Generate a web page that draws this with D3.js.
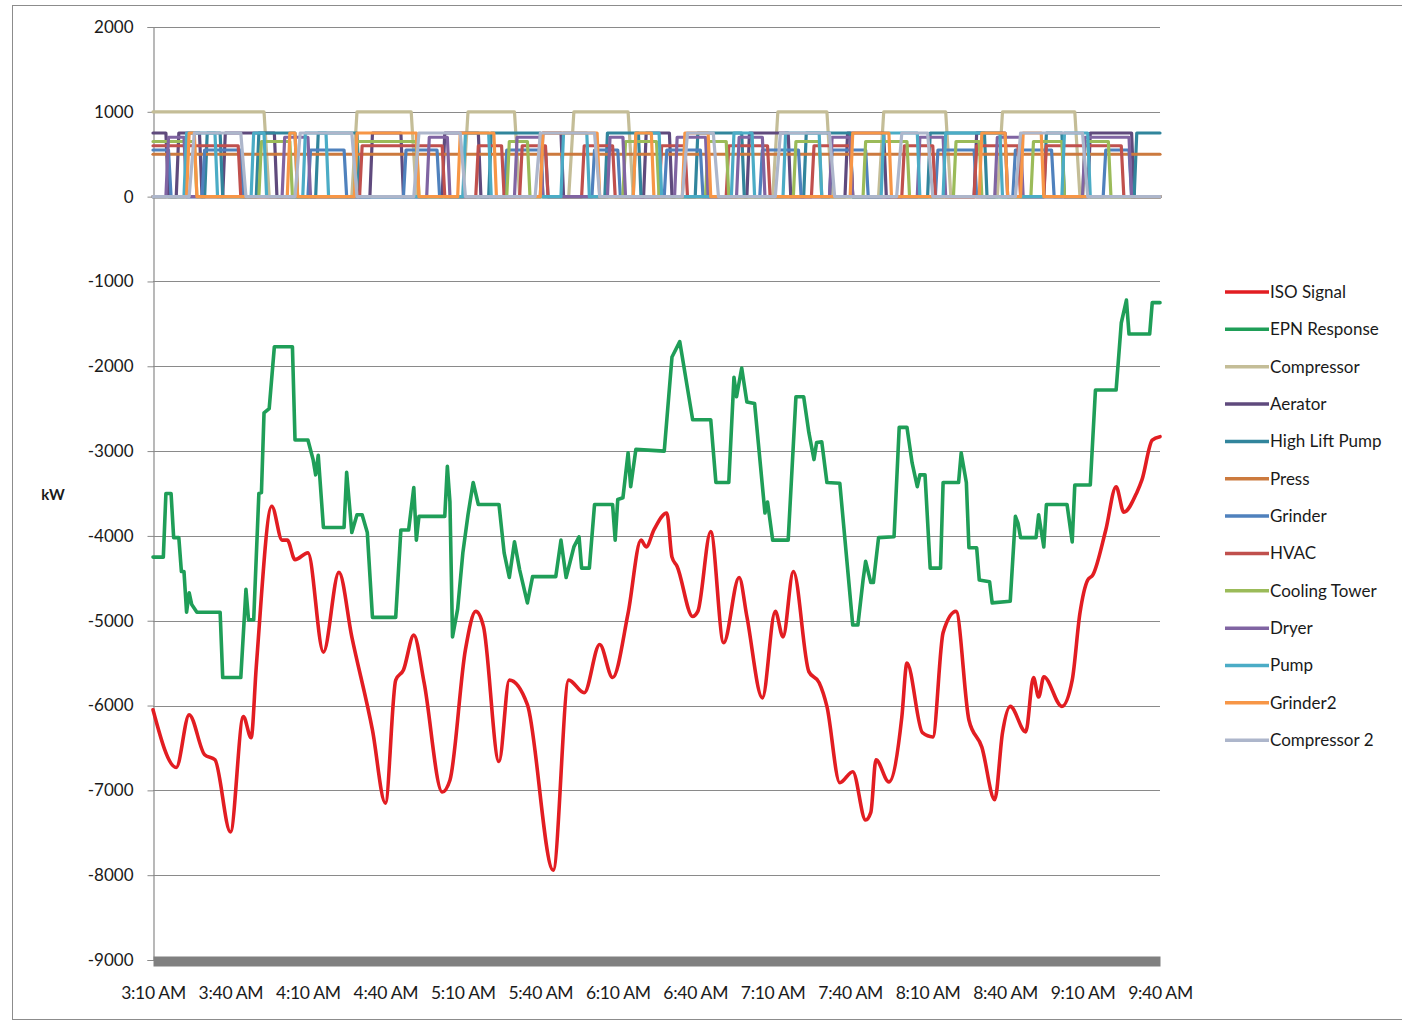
<!DOCTYPE html>
<html>
<head>
<meta charset="utf-8">
<script src="https://cdn.jsdelivr.net/npm/d3@7"></script>
<style>
  html, body { margin: 0; padding: 0; background: #fff; }
  svg { display: block; }
  text { font-family: Lato, "Open Sans", sans-serif; fill: #1a1a1a; }
</style>
</head>
<body>
<svg id="chart" width="1402" height="1023"></svg>
<script>
// Minutes after 3:10 AM and kW readings.
const isoSignal = [
  [0,-6050],[9,-6730],[14,-6110],[20,-6580],[24,-6640],[30,-7490],[35,-6130],[38,-6380],
  [40,-5540],[46,-3650],[50,-4050],[52,-4050],[55,-4280],[60,-4200],[66,-5370],[72,-4430],
  [77,-5190],[85,-6290],[90,-7150],[94,-5700],[97,-5580],[101,-5170],[105,-5730],[112,-7020],
  [115,-6880],[121,-5340],[125,-4890],[128,-5070],[134,-6660],[138,-5700],[145,-5990],[155,-7940],
  [161,-5700],[167,-5850],[173,-5280],[178,-5670],[184,-4910],[189,-4050],[191,-4130],[194,-3930],
  [199,-3730],[201,-4250],[203,-4360],[209,-4950],[211,-4890],[216,-3950],[221,-5260],[227,-4490],
  [230,-4950],[236,-5910],[241,-4890],[244,-5190],[248,-4420],[254,-5600],[258,-5730],[261,-6010],
  [266,-6910],[271,-6780],[276,-7350],[278,-7260],[280,-6640],[285,-6900],[290,-6140],[292,-5500],
  [298,-6320],[302,-6370],[306,-5140],[311,-4890],[316,-6170],[321,-6490],[326,-7110],[329,-6320],
  [332,-6010],[338,-6310],[341,-5670],[343,-5900],[345,-5660],[352,-6010],[356,-5700],[359,-4910],
  [362,-4520],[364,-4460],[369,-3930],[373,-3420],[376,-3720],[381,-3490],[383,-3340],[387,-2870],
  [390,-2830]
];

const epnResponse = [
  [0,-4250],[4,-4250],[5,-3500],[7,-3500],[8,-4020],[10,-4020],[11,-4420],[12,-4420],[13,-4900],
  [14,-4670],[15,-4810],[17,-4900],[26,-4900],[27,-5670],[34,-5670],[36,-4630],[37,-4990],[39,-4990],
  [41,-3500],[42,-3490],[43,-2550],[45,-2500],[47,-1770],[54,-1770],[55,-2870],[60,-2870],[62,-3100],
  [63,-3280],[64,-3050],[66,-3900],[74,-3900],[75,-3250],[77,-3960],[79,-3750],[81,-3750],[83,-3960],
  [85,-4960],[94,-4960],[96,-3930],[99,-3930],[101,-3430],[102,-4050],[103,-3770],[113,-3770],
  [114,-3180],[115,-3600],[116,-5190],[118,-4860],[120,-4200],[122,-3750],[124,-3370],[126,-3630],
  [134,-3630],[136,-4200],[138,-4490],[140,-4070],[142,-4400],[145,-4790],[147,-4480],[156,-4480],
  [158,-4050],[160,-4490],[163,-4130],[165,-4010],[166,-4380],[169,-4380],[171,-3630],[178,-3630],
  [179,-4050],[180,-3570],[182,-3550],[184,-3020],[185,-3420],[187,-2980],[198,-3000],[201,-1890],
  [204,-1710],[205,-1890],[209,-2630],[216,-2630],[218,-3370],[223,-3370],[225,-2130],[226,-2360],
  [228,-2020],[230,-2420],[233,-2440],[237,-3730],[238,-3600],[240,-4050],[246,-4050],[249,-2360],
  [252,-2360],[254,-2780],[256,-3100],[257,-2900],[259,-2890],[261,-3370],[266,-3380],[271,-5050],
  [273,-5050],[275,-4520],[276,-4300],[278,-4550],[279,-4550],[281,-4020],[287,-4010],[289,-2720],
  [292,-2720],[294,-3140],[296,-3420],[297,-3280],[299,-3280],[301,-4380],[305,-4380],[306,-3370],
  [312,-3370],[313,-3020],[315,-3370],[316,-4140],[319,-4140],[320,-4520],[324,-4540],[325,-4790],
  [332,-4770],[334,-3770],[335,-3850],[336,-4020],[342,-4020],[343,-3750],[345,-4130],[346,-3630],
  [354,-3630],[356,-4070],[357,-3400],[363,-3400],[365,-2280],[373,-2280],[375,-1490],[377,-1220],
  [378,-1620],[386,-1620],[387,-1250],[390,-1250]
];

// Load switching schedules: [on, off] in minutes after 3:10 AM.
const compressorOn   = [[0,43],[77,100],[120,140],[161,184],[240,261],[281,307],[327,357]];
const aeratorOn      = [[0,5],[9,18],[27,47],[84,96],[112,126],[150,158],[190,200],[230,246],[268,283],[318,330],[362,379]];
const highLiftPumpOn = [[20,26],[40,55],[63,79],[130,150],[175,188],[210,228],[252,270],[300,322],[345,352],[380,390]];
const pressOn        = [[0,390]];
const grinderOn      = [[0,6],[19,34],[60,74],[97,110],[136,152],[170,180],[198,212],[235,250],[262,276],[303,318],[333,348],[368,378]];
const hvacOn         = [[0,33],[80,112],[125,135],[142,152],[166,178],[196,206],[222,238],[255,270],[290,302],[318,335],[345,375]];
const coolingTowerOn = [[0,16],[41,53],[78,102],[137,145],[182,195],[214,222],[248,258],[275,292],[310,320],[340,352],[360,370]];
const dryerOn        = [[5,12],[50,60],[106,114],[140,150],[176,182],[202,214],[226,236],[262,270],[296,306],[326,336],[360,378]];
const pumpOn         = [[12,24],[38,43],[58,67],[120,130],[158,168],[186,196],[224,232],[244,258],[282,296],[306,328],[352,362]];
const grinder2On     = [[13,16],[52,55],[78,102],[118,132],[150,172],[186,193],[205,215],[270,285],[320,330],[336,344]];
const compressor2On  = [[14,34],[55,77],[101,119],[148,171],[205,217],[241,262],[288,300],[334,360]];

// Rated draw of each load, kW.
const deviceKw = {
  "Compressor": 1000, "Aerator": 750, "High Lift Pump": 750, "Press": 500, "Grinder": 550,
  "HVAC": 600, "Cooling Tower": 650, "Dryer": 700, "Pump": 750, "Grinder2": 750, "Compressor 2": 750
};

const seriesNames = ["ISO Signal","EPN Response","Compressor","Aerator","High Lift Pump","Press",
  "Grinder","HVAC","Cooling Tower","Dryer","Pump","Grinder2","Compressor 2"];
const seriesColors = ["#e21d22","#1f9e58","#c4bd97","#5f4a7d","#31859c","#cc7a3e",
  "#4f81bd","#c0504d","#9bbb59","#8064a2","#4bacc6","#f79646","#adb6cb"];

const yTicks = [2000,1000,0,-1000,-2000,-3000,-4000,-5000,-6000,-7000,-8000,-9000];
const xTickLabels = ["3:10 AM","3:40 AM","4:10 AM","4:40 AM","5:10 AM","5:40 AM","6:10 AM",
  "6:40 AM","7:10 AM","7:40 AM","8:10 AM","8:40 AM","9:10 AM","9:40 AM"];

const schedules = {
  "Compressor": compressorOn, "Aerator": aeratorOn, "High Lift Pump": highLiftPumpOn,
  "Press": pressOn, "Grinder": grinderOn, "HVAC": hvacOn, "Cooling Tower": coolingTowerOn,
  "Dryer": dryerOn, "Pump": pumpOn, "Grinder2": grinder2On, "Compressor 2": compressor2On
};

const END = 390;
const t0 = new Date(2000, 0, 1, 3, 10);
const toTime = m => new Date(t0.getTime() + m * 60000);

// Turn a schedule into a kW trace that ramps at each switch.
function traceFromSchedule(on, kw, ramp) {
  const pts = [];
  let cursor = 0;
  on.forEach(([s, e]) => {
    if (s > 0) { pts.push([cursor, 0]); pts.push([s, 0]); pts.push([Math.min(s + ramp, END), kw]); }
    else pts.push([0, kw]);
    if (e < END) { pts.push([e, kw]); pts.push([Math.min(e + ramp, END), 0]); cursor = Math.min(e + ramp, END); }
    else { pts.push([END, kw]); cursor = END; }
  });
  if (cursor < END) pts.push([END, 0]);
  return pts;
}

const svg = d3.select("#chart");

// chart frame
svg.append("rect").attr("x", 12.5).attr("y", 5.5).attr("width", 1400).attr("height", 1014)
  .attr("fill", "#fff").attr("stroke", "#8c8c8c").attr("stroke-width", 1);

const x = d3.scaleTime().domain([toTime(0), toTime(END)]).range([153, 1160]);
const y = d3.scaleLinear().domain([-9000, 2000]).range([960, 27]);

// gridlines
svg.append("g").selectAll("line").data(yTicks.filter(v => v > -9000)).join("line")
  .attr("x1", 153).attr("x2", 1160)
  .attr("y1", d => Math.round(y(d)) + 0.5).attr("y2", d => Math.round(y(d)) + 0.5)
  .attr("stroke", "#8a8a8a").attr("stroke-width", 1.2);

// y axis
const yAxis = svg.append("g").attr("transform", "translate(153.5,0)")
  .call(d3.axisLeft(y).tickValues(yTicks).tickSize(6).tickPadding(14).tickFormat(d => String(d)));
yAxis.select(".domain").attr("stroke", "#8a8a8a").attr("stroke-width", 1.2);
yAxis.selectAll(".tick line").attr("stroke", "#8a8a8a");
yAxis.selectAll("text").style("font-size", "17px").attr("fill", "#1a1a1a");

svg.append("text").attr("x", 53).attr("y", 500).attr("text-anchor", "middle")
  .style("font-size", "15px").style("font-weight", "bold").text("kW");

// x axis (drawn heavy at the bottom of the plot)
const xTickValues = xTickLabels.map((_, i) => toTime(i * 30));
const xAxis = svg.append("g").attr("transform", `translate(0,${y(-9000) + 1})`)
  .call(d3.axisBottom(x).tickValues(xTickValues).tickSize(0).tickPadding(26)
    .tickFormat((d, i) => xTickLabels[i]));
xAxis.select(".domain").attr("stroke", "#808080").attr("stroke-width", 10);
xAxis.selectAll("text").style("font-size", "17.5px").style("letter-spacing", "-0.3px").attr("fill", "#1a1a1a");

// lines
const line = d3.line().x(d => x(toTime(d[0]))).y(d => y(d[1]));
const smooth = d3.line().x(d => x(toTime(d[0]))).y(d => y(d[1])).curve(d3.curveMonotoneX);

const plot = svg.append("g").attr("fill", "none").attr("stroke-linejoin", "round").attr("stroke-linecap", "round");

plot.append("path").datum(isoSignal).attr("d", smooth)
  .attr("stroke", seriesColors[0]).attr("stroke-width", 3.6);
plot.append("path").datum(epnResponse).attr("d", line)
  .attr("stroke", seriesColors[1]).attr("stroke-width", 3.6);

seriesNames.slice(2).forEach((name, i) => {
  const ramp = name.startsWith("Compressor") ? 2 : 1;
  plot.append("path").datum(traceFromSchedule(schedules[name], deviceKw[name], ramp))
    .attr("d", line).attr("stroke", seriesColors[i + 2]).attr("stroke-width", 3.2);
});

// legend
const legend = svg.append("g").attr("transform", "translate(1225,292)");
const rows = legend.selectAll("g").data(seriesNames).join("g")
  .attr("transform", (d, i) => `translate(0,${i * 37.35})`);
rows.append("line").attr("x1", 0).attr("x2", 44).attr("y1", 0).attr("y2", 0)
  .attr("stroke", (d, i) => seriesColors[i]).attr("stroke-width", 3.5);
rows.append("text").attr("x", 45).attr("y", 0).attr("dy", "0.35em")
  .style("font-size", "17px").text(d => d);
</script>
</body>
</html>
